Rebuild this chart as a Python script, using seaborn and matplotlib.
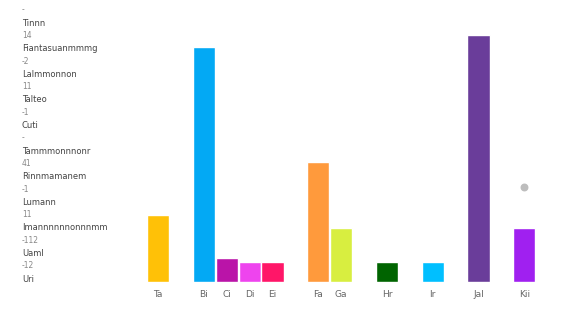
import pandas as pd
import matplotlib
matplotlib.use("Agg")
import matplotlib.pyplot as plt
import seaborn as sns

# bar data (gaps in the layout are empty category slots)
categories = ["Ta", "Bi", "Ci", "Di", "Ei", "Fa", "Ga", "Hr", "Ir", "Jal", "Kii"]
values = [27, 94, 9.5, 8, 8, 48, 21.5, 8, 8, 99, 21.5]
colors = ["#FFC107", "#03A9F4", "#BA14A8", "#EE44EE", "#FF1668", "#FF9A3C",
          "#D8EE40", "#006400", "#00BFFF", "#6A3D9A", "#A020F0"]
slot_order = ["Ta", "gap1", "Bi", "Ci", "Di", "Ei", "gap2", "Fa", "Ga", "gap3",
              "Hr", "gap4", "Ir", "gap5", "Jal", "gap6", "Kii"]

# extra point shown above the last bar
point_cat = "Kii"
point_val = 38

# side list of entries
entry_codes = ["-", "14", "-2", "11", "-1", "-", "41", "-1", "11", "-112", "-12"]
entry_names = ["Tinnn", "Fiantasuanmmmg", "Lalmmonnon", "Talteo", "Cuti",
               "Tammmonnnonr", "Rinnmamanem", "Lumann", "Imannnnnnonnnmm", "Uaml", "Uri"]

df = pd.DataFrame({"cat": categories, "val": values})
palette = dict(zip(categories, colors))

sns.set_style("white")
fig = plt.figure(figsize=(5.64, 3.11), dpi=100)
ax = fig.add_axes([0.245, 0.093, 0.725, 0.843])

sns.barplot(data=df, x="cat", y="val", hue="cat", order=slot_order,
            palette=palette, width=0.97, legend=False, ax=ax, saturation=1)

px = slot_order.index(point_cat)
ax.scatter([px], [point_val], s=22, color="#bdbdbd", zorder=3)

ax.set_xlim(-0.87, 17.0)
ax.set_ylim(0, 105)
ax.set_xticks(range(len(slot_order)))
ax.set_xticklabels([c if not c.startswith("gap") else "" for c in slot_order],
                   fontsize=6.5, color="#666666")
ax.tick_params(axis="x", length=0, pad=6)
ax.set_yticks([])
ax.set_xlabel("")
ax.set_ylabel("")
sns.despine(ax=ax, left=True, bottom=True)

# side list
y0 = 1 - 10 / 311
step = 25.6 / 311
for i, (code, name) in enumerate(zip(entry_codes, entry_names)):
    y = y0 - i * step
    fig.text(22 / 564, y, code, fontsize=5.5, color="#888888", va="center")
    fig.text(22 / 564, y - 13 / 311, name, fontsize=6, color="#444444", va="center")

fig.savefig("out.png", dpi=100, facecolor="white")
